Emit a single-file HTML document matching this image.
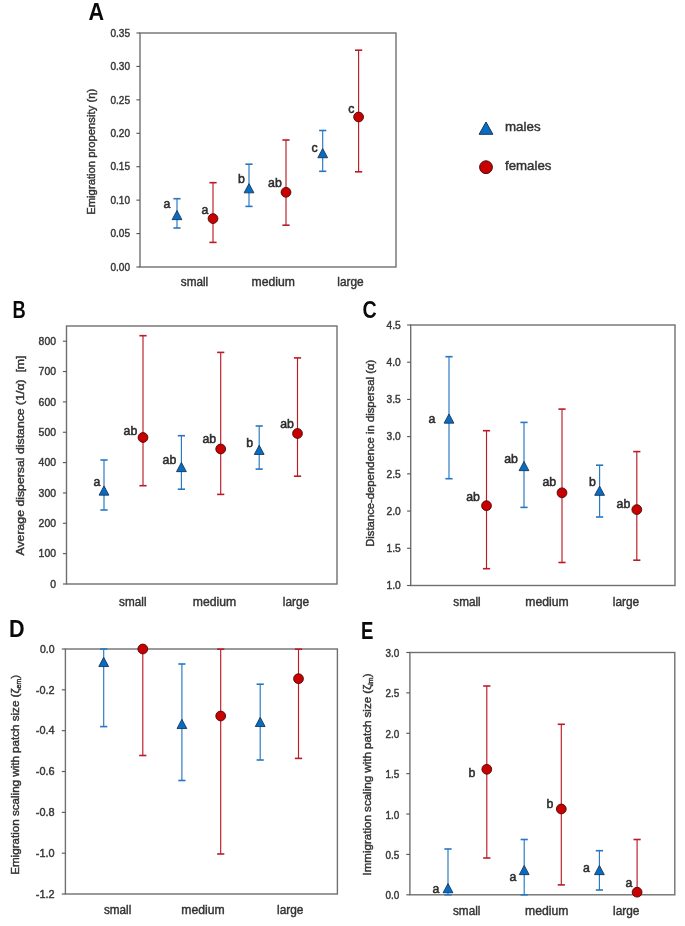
<!DOCTYPE html>
<html><head><meta charset="utf-8"><title>Figure</title>
<style>
html,body{margin:0;padding:0;background:#ffffff;}
body{width:685px;height:926px;overflow:hidden;}
svg{display:block;font-family:"Liberation Sans", sans-serif;filter:blur(0.35px);}
</style></head>
<body>
<svg width="685" height="926" viewBox="0 0 685 926">
<rect x="0" y="0" width="685" height="926" fill="#ffffff"/>
<rect x="140.00" y="33.00" width="256.00" height="234.00" fill="none" stroke="#707070" stroke-width="1.4"/>
<line x1="136.40" y1="267.00" x2="140.00" y2="267.00" stroke="#555555" stroke-width="1.1"/>
<text x="130.00" y="270.70" font-size="10.4" fill="#383838" stroke="#383838" stroke-width="0.42" text-anchor="end" font-weight="normal" textLength="19.60" lengthAdjust="spacingAndGlyphs">0.00</text>
<line x1="136.40" y1="233.57" x2="140.00" y2="233.57" stroke="#555555" stroke-width="1.1"/>
<text x="130.00" y="237.27" font-size="10.4" fill="#383838" stroke="#383838" stroke-width="0.42" text-anchor="end" font-weight="normal" textLength="19.60" lengthAdjust="spacingAndGlyphs">0.05</text>
<line x1="136.40" y1="200.14" x2="140.00" y2="200.14" stroke="#555555" stroke-width="1.1"/>
<text x="130.00" y="203.84" font-size="10.4" fill="#383838" stroke="#383838" stroke-width="0.42" text-anchor="end" font-weight="normal" textLength="19.60" lengthAdjust="spacingAndGlyphs">0.10</text>
<line x1="136.40" y1="166.71" x2="140.00" y2="166.71" stroke="#555555" stroke-width="1.1"/>
<text x="130.00" y="170.41" font-size="10.4" fill="#383838" stroke="#383838" stroke-width="0.42" text-anchor="end" font-weight="normal" textLength="19.60" lengthAdjust="spacingAndGlyphs">0.15</text>
<line x1="136.40" y1="133.29" x2="140.00" y2="133.29" stroke="#555555" stroke-width="1.1"/>
<text x="130.00" y="136.99" font-size="10.4" fill="#383838" stroke="#383838" stroke-width="0.42" text-anchor="end" font-weight="normal" textLength="19.60" lengthAdjust="spacingAndGlyphs">0.20</text>
<line x1="136.40" y1="99.86" x2="140.00" y2="99.86" stroke="#555555" stroke-width="1.1"/>
<text x="130.00" y="103.56" font-size="10.4" fill="#383838" stroke="#383838" stroke-width="0.42" text-anchor="end" font-weight="normal" textLength="19.60" lengthAdjust="spacingAndGlyphs">0.25</text>
<line x1="136.40" y1="66.43" x2="140.00" y2="66.43" stroke="#555555" stroke-width="1.1"/>
<text x="130.00" y="70.13" font-size="10.4" fill="#383838" stroke="#383838" stroke-width="0.42" text-anchor="end" font-weight="normal" textLength="19.60" lengthAdjust="spacingAndGlyphs">0.30</text>
<line x1="136.40" y1="33.00" x2="140.00" y2="33.00" stroke="#555555" stroke-width="1.1"/>
<text x="130.00" y="36.70" font-size="10.4" fill="#383838" stroke="#383838" stroke-width="0.42" text-anchor="end" font-weight="normal" textLength="19.60" lengthAdjust="spacingAndGlyphs">0.35</text>
<line x1="177.00" y1="198.70" x2="177.00" y2="228.00" stroke="#2677c3" stroke-width="1.15"/>
<line x1="173.40" y1="198.70" x2="180.60" y2="198.70" stroke="#2677c3" stroke-width="1.5999999999999999"/>
<line x1="173.40" y1="228.00" x2="180.60" y2="228.00" stroke="#2677c3" stroke-width="1.5999999999999999"/>
<line x1="249.00" y1="164.20" x2="249.00" y2="206.40" stroke="#2677c3" stroke-width="1.15"/>
<line x1="245.40" y1="164.20" x2="252.60" y2="164.20" stroke="#2677c3" stroke-width="1.5999999999999999"/>
<line x1="245.40" y1="206.40" x2="252.60" y2="206.40" stroke="#2677c3" stroke-width="1.5999999999999999"/>
<line x1="322.70" y1="130.50" x2="322.70" y2="171.30" stroke="#2677c3" stroke-width="1.15"/>
<line x1="319.10" y1="130.50" x2="326.30" y2="130.50" stroke="#2677c3" stroke-width="1.5999999999999999"/>
<line x1="319.10" y1="171.30" x2="326.30" y2="171.30" stroke="#2677c3" stroke-width="1.5999999999999999"/>
<line x1="213.00" y1="182.70" x2="213.00" y2="242.40" stroke="#ba1c26" stroke-width="1.15"/>
<line x1="209.40" y1="182.70" x2="216.60" y2="182.70" stroke="#ba1c26" stroke-width="1.5999999999999999"/>
<line x1="209.40" y1="242.40" x2="216.60" y2="242.40" stroke="#ba1c26" stroke-width="1.5999999999999999"/>
<line x1="286.00" y1="140.00" x2="286.00" y2="225.20" stroke="#ba1c26" stroke-width="1.15"/>
<line x1="282.40" y1="140.00" x2="289.60" y2="140.00" stroke="#ba1c26" stroke-width="1.5999999999999999"/>
<line x1="282.40" y1="225.20" x2="289.60" y2="225.20" stroke="#ba1c26" stroke-width="1.5999999999999999"/>
<line x1="358.60" y1="50.20" x2="358.60" y2="171.80" stroke="#ba1c26" stroke-width="1.15"/>
<line x1="355.00" y1="50.20" x2="362.20" y2="50.20" stroke="#ba1c26" stroke-width="1.5999999999999999"/>
<line x1="355.00" y1="171.80" x2="362.20" y2="171.80" stroke="#ba1c26" stroke-width="1.5999999999999999"/>
<polygon points="177.00,210.44 172.10,219.64 181.90,219.64" fill="#0a6cc0" stroke="#14385e" stroke-width="0.9" stroke-linejoin="miter"/>
<polygon points="249.00,183.64 244.10,192.84 253.90,192.84" fill="#0a6cc0" stroke="#14385e" stroke-width="0.9" stroke-linejoin="miter"/>
<polygon points="322.70,148.54 317.80,157.74 327.60,157.74" fill="#0a6cc0" stroke="#14385e" stroke-width="0.9" stroke-linejoin="miter"/>
<circle cx="213.00" cy="218.60" r="4.9" fill="#c80000" stroke="#4a0a0a" stroke-width="0.9"/>
<circle cx="286.00" cy="192.30" r="4.9" fill="#c80000" stroke="#4a0a0a" stroke-width="0.9"/>
<circle cx="358.60" cy="117.00" r="4.9" fill="#c80000" stroke="#4a0a0a" stroke-width="0.9"/>
<text x="163.60" y="208.00" font-size="12.3" fill="#2a2a2a" stroke="#2a2a2a" stroke-width="0.5">a</text>
<text x="201.60" y="214.00" font-size="12.3" fill="#2a2a2a" stroke="#2a2a2a" stroke-width="0.5">a</text>
<text x="238.10" y="182.50" font-size="12.3" fill="#2a2a2a" stroke="#2a2a2a" stroke-width="0.5">b</text>
<text x="268.10" y="186.50" font-size="12.3" fill="#2a2a2a" stroke="#2a2a2a" stroke-width="0.5">ab</text>
<text x="311.40" y="152.00" font-size="12.3" fill="#2a2a2a" stroke="#2a2a2a" stroke-width="0.5">c</text>
<text x="348.20" y="113.00" font-size="12.3" fill="#2a2a2a" stroke="#2a2a2a" stroke-width="0.5">c</text>
<text x="194.50" y="286.00" font-size="12.4" fill="#333333" stroke="#333333" stroke-width="0.42" text-anchor="middle" font-weight="normal" textLength="27.40" lengthAdjust="spacingAndGlyphs">small</text>
<text x="273.20" y="286.00" font-size="12.4" fill="#333333" stroke="#333333" stroke-width="0.42" text-anchor="middle" font-weight="normal" textLength="43.40" lengthAdjust="spacingAndGlyphs">medium</text>
<text x="350.50" y="286.00" font-size="12.4" fill="#333333" stroke="#333333" stroke-width="0.42" text-anchor="middle" font-weight="normal" textLength="26.40" lengthAdjust="spacingAndGlyphs">large</text>
<text transform="translate(95.40,151.80) rotate(-90)" x="0" y="0" font-size="11.6" fill="#333333" stroke="#333333" stroke-width="0.42" text-anchor="middle" textLength="126.00" lengthAdjust="spacingAndGlyphs">Emigration propensity (η)</text>
<text x="88.60" y="20.40" font-size="23.3" font-weight="bold" fill="#0a0a0a" textLength="15.60" lengthAdjust="spacingAndGlyphs">A</text>
<polygon points="486.00,122.0 479.10,134.3 492.90,134.3" fill="#0a6cc0" stroke="#14385e" stroke-width="1"/>
<circle cx="486" cy="167.2" r="6.4" fill="#c80000" stroke="#4a0a0a" stroke-width="1"/>
<text x="505.00" y="131.20" font-size="13.2" fill="#333333" stroke="#333333" stroke-width="0.42" text-anchor="start" font-weight="normal" textLength="35.60" lengthAdjust="spacingAndGlyphs">males</text>
<text x="505.00" y="169.70" font-size="13.2" fill="#333333" stroke="#333333" stroke-width="0.42" text-anchor="start" font-weight="normal" textLength="46.40" lengthAdjust="spacingAndGlyphs">females</text>
<rect x="66.50" y="326.00" width="270.50" height="258.00" fill="none" stroke="#707070" stroke-width="1.4"/>
<line x1="62.90" y1="584.00" x2="66.50" y2="584.00" stroke="#555555" stroke-width="1.1"/>
<text x="56.00" y="587.70" font-size="10.4" fill="#383838" stroke="#383838" stroke-width="0.42" text-anchor="end" font-weight="normal" textLength="5.80" lengthAdjust="spacingAndGlyphs">0</text>
<line x1="62.90" y1="553.65" x2="66.50" y2="553.65" stroke="#555555" stroke-width="1.1"/>
<text x="56.00" y="557.35" font-size="10.4" fill="#383838" stroke="#383838" stroke-width="0.42" text-anchor="end" font-weight="normal" textLength="17.40" lengthAdjust="spacingAndGlyphs">100</text>
<line x1="62.90" y1="523.30" x2="66.50" y2="523.30" stroke="#555555" stroke-width="1.1"/>
<text x="56.00" y="527.00" font-size="10.4" fill="#383838" stroke="#383838" stroke-width="0.42" text-anchor="end" font-weight="normal" textLength="17.40" lengthAdjust="spacingAndGlyphs">200</text>
<line x1="62.90" y1="492.95" x2="66.50" y2="492.95" stroke="#555555" stroke-width="1.1"/>
<text x="56.00" y="496.65" font-size="10.4" fill="#383838" stroke="#383838" stroke-width="0.42" text-anchor="end" font-weight="normal" textLength="17.40" lengthAdjust="spacingAndGlyphs">300</text>
<line x1="62.90" y1="462.60" x2="66.50" y2="462.60" stroke="#555555" stroke-width="1.1"/>
<text x="56.00" y="466.30" font-size="10.4" fill="#383838" stroke="#383838" stroke-width="0.42" text-anchor="end" font-weight="normal" textLength="17.40" lengthAdjust="spacingAndGlyphs">400</text>
<line x1="62.90" y1="432.25" x2="66.50" y2="432.25" stroke="#555555" stroke-width="1.1"/>
<text x="56.00" y="435.95" font-size="10.4" fill="#383838" stroke="#383838" stroke-width="0.42" text-anchor="end" font-weight="normal" textLength="17.40" lengthAdjust="spacingAndGlyphs">500</text>
<line x1="62.90" y1="401.90" x2="66.50" y2="401.90" stroke="#555555" stroke-width="1.1"/>
<text x="56.00" y="405.60" font-size="10.4" fill="#383838" stroke="#383838" stroke-width="0.42" text-anchor="end" font-weight="normal" textLength="17.40" lengthAdjust="spacingAndGlyphs">600</text>
<line x1="62.90" y1="371.55" x2="66.50" y2="371.55" stroke="#555555" stroke-width="1.1"/>
<text x="56.00" y="375.25" font-size="10.4" fill="#383838" stroke="#383838" stroke-width="0.42" text-anchor="end" font-weight="normal" textLength="17.40" lengthAdjust="spacingAndGlyphs">700</text>
<line x1="62.90" y1="341.20" x2="66.50" y2="341.20" stroke="#555555" stroke-width="1.1"/>
<text x="56.00" y="344.90" font-size="10.4" fill="#383838" stroke="#383838" stroke-width="0.42" text-anchor="end" font-weight="normal" textLength="17.40" lengthAdjust="spacingAndGlyphs">800</text>
<line x1="104.00" y1="460.00" x2="104.00" y2="510.00" stroke="#2677c3" stroke-width="1.15"/>
<line x1="100.40" y1="460.00" x2="107.60" y2="460.00" stroke="#2677c3" stroke-width="1.5999999999999999"/>
<line x1="100.40" y1="510.00" x2="107.60" y2="510.00" stroke="#2677c3" stroke-width="1.5999999999999999"/>
<line x1="181.40" y1="435.70" x2="181.40" y2="489.20" stroke="#2677c3" stroke-width="1.15"/>
<line x1="177.80" y1="435.70" x2="185.00" y2="435.70" stroke="#2677c3" stroke-width="1.5999999999999999"/>
<line x1="177.80" y1="489.20" x2="185.00" y2="489.20" stroke="#2677c3" stroke-width="1.5999999999999999"/>
<line x1="259.20" y1="426.00" x2="259.20" y2="469.10" stroke="#2677c3" stroke-width="1.15"/>
<line x1="255.60" y1="426.00" x2="262.80" y2="426.00" stroke="#2677c3" stroke-width="1.5999999999999999"/>
<line x1="255.60" y1="469.10" x2="262.80" y2="469.10" stroke="#2677c3" stroke-width="1.5999999999999999"/>
<line x1="143.00" y1="335.70" x2="143.00" y2="485.70" stroke="#ba1c26" stroke-width="1.15"/>
<line x1="139.40" y1="335.70" x2="146.60" y2="335.70" stroke="#ba1c26" stroke-width="1.5999999999999999"/>
<line x1="139.40" y1="485.70" x2="146.60" y2="485.70" stroke="#ba1c26" stroke-width="1.5999999999999999"/>
<line x1="220.70" y1="352.40" x2="220.70" y2="494.40" stroke="#ba1c26" stroke-width="1.15"/>
<line x1="217.10" y1="352.40" x2="224.30" y2="352.40" stroke="#ba1c26" stroke-width="1.5999999999999999"/>
<line x1="217.10" y1="494.40" x2="224.30" y2="494.40" stroke="#ba1c26" stroke-width="1.5999999999999999"/>
<line x1="297.50" y1="357.90" x2="297.50" y2="476.20" stroke="#ba1c26" stroke-width="1.15"/>
<line x1="293.90" y1="357.90" x2="301.10" y2="357.90" stroke="#ba1c26" stroke-width="1.5999999999999999"/>
<line x1="293.90" y1="476.20" x2="301.10" y2="476.20" stroke="#ba1c26" stroke-width="1.5999999999999999"/>
<polygon points="104.00,485.94 99.10,495.14 108.90,495.14" fill="#0a6cc0" stroke="#14385e" stroke-width="0.9" stroke-linejoin="miter"/>
<polygon points="181.40,462.44 176.50,471.64 186.30,471.64" fill="#0a6cc0" stroke="#14385e" stroke-width="0.9" stroke-linejoin="miter"/>
<polygon points="259.20,445.24 254.30,454.44 264.10,454.44" fill="#0a6cc0" stroke="#14385e" stroke-width="0.9" stroke-linejoin="miter"/>
<circle cx="143.00" cy="437.50" r="4.9" fill="#c80000" stroke="#4a0a0a" stroke-width="0.9"/>
<circle cx="220.70" cy="449.00" r="4.9" fill="#c80000" stroke="#4a0a0a" stroke-width="0.9"/>
<circle cx="297.50" cy="433.50" r="4.9" fill="#c80000" stroke="#4a0a0a" stroke-width="0.9"/>
<text x="93.60" y="486.00" font-size="12.3" fill="#2a2a2a" stroke="#2a2a2a" stroke-width="0.5">a</text>
<text x="123.60" y="435.00" font-size="12.3" fill="#2a2a2a" stroke="#2a2a2a" stroke-width="0.5">ab</text>
<text x="162.60" y="464.00" font-size="12.3" fill="#2a2a2a" stroke="#2a2a2a" stroke-width="0.5">ab</text>
<text x="202.40" y="442.50" font-size="12.3" fill="#2a2a2a" stroke="#2a2a2a" stroke-width="0.5">ab</text>
<text x="246.20" y="447.00" font-size="12.3" fill="#2a2a2a" stroke="#2a2a2a" stroke-width="0.5">b</text>
<text x="280.20" y="428.00" font-size="12.3" fill="#2a2a2a" stroke="#2a2a2a" stroke-width="0.5">ab</text>
<text x="132.80" y="605.60" font-size="12.4" fill="#333333" stroke="#333333" stroke-width="0.42" text-anchor="middle" font-weight="normal" textLength="27.40" lengthAdjust="spacingAndGlyphs">small</text>
<text x="214.50" y="605.60" font-size="12.4" fill="#333333" stroke="#333333" stroke-width="0.42" text-anchor="middle" font-weight="normal" textLength="43.40" lengthAdjust="spacingAndGlyphs">medium</text>
<text x="296.00" y="605.60" font-size="12.4" fill="#333333" stroke="#333333" stroke-width="0.42" text-anchor="middle" font-weight="normal" textLength="26.40" lengthAdjust="spacingAndGlyphs">large</text>
<text transform="translate(23.80,455.50) rotate(-90)" x="0" y="0" font-size="11.6" fill="#333333" stroke="#333333" stroke-width="0.42" text-anchor="middle" textLength="200.00" lengthAdjust="spacingAndGlyphs">Average dispersal distance (1/α)&#160; [m]</text>
<text x="12.40" y="318.30" font-size="23.3" font-weight="bold" fill="#0a0a0a" textLength="13.20" lengthAdjust="spacingAndGlyphs">B</text>
<rect x="410.70" y="325.00" width="264.30" height="260.50" fill="none" stroke="#707070" stroke-width="1.4"/>
<line x1="407.10" y1="585.50" x2="410.70" y2="585.50" stroke="#555555" stroke-width="1.1"/>
<text x="400.80" y="589.20" font-size="10.4" fill="#383838" stroke="#383838" stroke-width="0.42" text-anchor="end" font-weight="normal" textLength="14.20" lengthAdjust="spacingAndGlyphs">1.0</text>
<line x1="407.10" y1="548.29" x2="410.70" y2="548.29" stroke="#555555" stroke-width="1.1"/>
<text x="400.80" y="551.99" font-size="10.4" fill="#383838" stroke="#383838" stroke-width="0.42" text-anchor="end" font-weight="normal" textLength="14.20" lengthAdjust="spacingAndGlyphs">1.5</text>
<line x1="407.10" y1="511.07" x2="410.70" y2="511.07" stroke="#555555" stroke-width="1.1"/>
<text x="400.80" y="514.77" font-size="10.4" fill="#383838" stroke="#383838" stroke-width="0.42" text-anchor="end" font-weight="normal" textLength="14.20" lengthAdjust="spacingAndGlyphs">2.0</text>
<line x1="407.10" y1="473.86" x2="410.70" y2="473.86" stroke="#555555" stroke-width="1.1"/>
<text x="400.80" y="477.56" font-size="10.4" fill="#383838" stroke="#383838" stroke-width="0.42" text-anchor="end" font-weight="normal" textLength="14.20" lengthAdjust="spacingAndGlyphs">2.5</text>
<line x1="407.10" y1="436.64" x2="410.70" y2="436.64" stroke="#555555" stroke-width="1.1"/>
<text x="400.80" y="440.34" font-size="10.4" fill="#383838" stroke="#383838" stroke-width="0.42" text-anchor="end" font-weight="normal" textLength="14.20" lengthAdjust="spacingAndGlyphs">3.0</text>
<line x1="407.10" y1="399.43" x2="410.70" y2="399.43" stroke="#555555" stroke-width="1.1"/>
<text x="400.80" y="403.13" font-size="10.4" fill="#383838" stroke="#383838" stroke-width="0.42" text-anchor="end" font-weight="normal" textLength="14.20" lengthAdjust="spacingAndGlyphs">3.5</text>
<line x1="407.10" y1="362.21" x2="410.70" y2="362.21" stroke="#555555" stroke-width="1.1"/>
<text x="400.80" y="365.91" font-size="10.4" fill="#383838" stroke="#383838" stroke-width="0.42" text-anchor="end" font-weight="normal" textLength="14.20" lengthAdjust="spacingAndGlyphs">4.0</text>
<line x1="407.10" y1="325.00" x2="410.70" y2="325.00" stroke="#555555" stroke-width="1.1"/>
<text x="400.80" y="328.70" font-size="10.4" fill="#383838" stroke="#383838" stroke-width="0.42" text-anchor="end" font-weight="normal" textLength="14.20" lengthAdjust="spacingAndGlyphs">4.5</text>
<line x1="449.00" y1="356.70" x2="449.00" y2="478.70" stroke="#2677c3" stroke-width="1.15"/>
<line x1="445.40" y1="356.70" x2="452.60" y2="356.70" stroke="#2677c3" stroke-width="1.5999999999999999"/>
<line x1="445.40" y1="478.70" x2="452.60" y2="478.70" stroke="#2677c3" stroke-width="1.5999999999999999"/>
<line x1="524.00" y1="422.40" x2="524.00" y2="507.40" stroke="#2677c3" stroke-width="1.15"/>
<line x1="520.40" y1="422.40" x2="527.60" y2="422.40" stroke="#2677c3" stroke-width="1.5999999999999999"/>
<line x1="520.40" y1="507.40" x2="527.60" y2="507.40" stroke="#2677c3" stroke-width="1.5999999999999999"/>
<line x1="599.60" y1="465.20" x2="599.60" y2="517.00" stroke="#2677c3" stroke-width="1.15"/>
<line x1="596.00" y1="465.20" x2="603.20" y2="465.20" stroke="#2677c3" stroke-width="1.5999999999999999"/>
<line x1="596.00" y1="517.00" x2="603.20" y2="517.00" stroke="#2677c3" stroke-width="1.5999999999999999"/>
<line x1="486.50" y1="430.70" x2="486.50" y2="568.70" stroke="#ba1c26" stroke-width="1.15"/>
<line x1="482.90" y1="430.70" x2="490.10" y2="430.70" stroke="#ba1c26" stroke-width="1.5999999999999999"/>
<line x1="482.90" y1="568.70" x2="490.10" y2="568.70" stroke="#ba1c26" stroke-width="1.5999999999999999"/>
<line x1="562.00" y1="409.10" x2="562.00" y2="562.50" stroke="#ba1c26" stroke-width="1.15"/>
<line x1="558.40" y1="409.10" x2="565.60" y2="409.10" stroke="#ba1c26" stroke-width="1.5999999999999999"/>
<line x1="558.40" y1="562.50" x2="565.60" y2="562.50" stroke="#ba1c26" stroke-width="1.5999999999999999"/>
<line x1="636.80" y1="451.60" x2="636.80" y2="560.20" stroke="#ba1c26" stroke-width="1.15"/>
<line x1="633.20" y1="451.60" x2="640.40" y2="451.60" stroke="#ba1c26" stroke-width="1.5999999999999999"/>
<line x1="633.20" y1="560.20" x2="640.40" y2="560.20" stroke="#ba1c26" stroke-width="1.5999999999999999"/>
<polygon points="449.00,413.94 444.10,423.14 453.90,423.14" fill="#0a6cc0" stroke="#14385e" stroke-width="0.9" stroke-linejoin="miter"/>
<polygon points="524.00,461.44 519.10,470.64 528.90,470.64" fill="#0a6cc0" stroke="#14385e" stroke-width="0.9" stroke-linejoin="miter"/>
<polygon points="599.60,486.14 594.70,495.34 604.50,495.34" fill="#0a6cc0" stroke="#14385e" stroke-width="0.9" stroke-linejoin="miter"/>
<circle cx="486.50" cy="505.70" r="4.9" fill="#c80000" stroke="#4a0a0a" stroke-width="0.9"/>
<circle cx="562.00" cy="492.80" r="4.9" fill="#c80000" stroke="#4a0a0a" stroke-width="0.9"/>
<circle cx="636.80" cy="509.60" r="4.9" fill="#c80000" stroke="#4a0a0a" stroke-width="0.9"/>
<text x="428.60" y="423.00" font-size="12.3" fill="#2a2a2a" stroke="#2a2a2a" stroke-width="0.5">a</text>
<text x="466.20" y="500.50" font-size="12.3" fill="#2a2a2a" stroke="#2a2a2a" stroke-width="0.5">ab</text>
<text x="504.20" y="462.60" font-size="12.3" fill="#2a2a2a" stroke="#2a2a2a" stroke-width="0.5">ab</text>
<text x="542.40" y="486.00" font-size="12.3" fill="#2a2a2a" stroke="#2a2a2a" stroke-width="0.5">ab</text>
<text x="589.10" y="486.00" font-size="12.3" fill="#2a2a2a" stroke="#2a2a2a" stroke-width="0.5">b</text>
<text x="616.60" y="508.00" font-size="12.3" fill="#2a2a2a" stroke="#2a2a2a" stroke-width="0.5">ab</text>
<text x="467.00" y="605.80" font-size="12.4" fill="#333333" stroke="#333333" stroke-width="0.42" text-anchor="middle" font-weight="normal" textLength="27.40" lengthAdjust="spacingAndGlyphs">small</text>
<text x="547.00" y="605.80" font-size="12.4" fill="#333333" stroke="#333333" stroke-width="0.42" text-anchor="middle" font-weight="normal" textLength="43.40" lengthAdjust="spacingAndGlyphs">medium</text>
<text x="626.00" y="605.80" font-size="12.4" fill="#333333" stroke="#333333" stroke-width="0.42" text-anchor="middle" font-weight="normal" textLength="26.40" lengthAdjust="spacingAndGlyphs">large</text>
<text transform="translate(373.80,453.30) rotate(-90)" x="0" y="0" font-size="11.6" fill="#333333" stroke="#333333" stroke-width="0.42" text-anchor="middle" textLength="187.00" lengthAdjust="spacingAndGlyphs">Distance-dependence in dispersal (α)</text>
<text x="362.60" y="317.90" font-size="23.3" font-weight="bold" fill="#0a0a0a" textLength="14.20" lengthAdjust="spacingAndGlyphs">C</text>
<rect x="65.40" y="649.00" width="272.00" height="245.00" fill="none" stroke="#707070" stroke-width="1.4"/>
<line x1="61.80" y1="649.00" x2="65.40" y2="649.00" stroke="#555555" stroke-width="1.1"/>
<text x="54.60" y="652.70" font-size="10.4" fill="#383838" stroke="#383838" stroke-width="0.42" text-anchor="end" font-weight="normal" textLength="14.60" lengthAdjust="spacingAndGlyphs">0.0</text>
<line x1="61.80" y1="689.83" x2="65.40" y2="689.83" stroke="#555555" stroke-width="1.1"/>
<text x="54.60" y="693.53" font-size="10.4" fill="#383838" stroke="#383838" stroke-width="0.42" text-anchor="end" font-weight="normal" textLength="18.80" lengthAdjust="spacingAndGlyphs">-0.2</text>
<line x1="61.80" y1="730.67" x2="65.40" y2="730.67" stroke="#555555" stroke-width="1.1"/>
<text x="54.60" y="734.37" font-size="10.4" fill="#383838" stroke="#383838" stroke-width="0.42" text-anchor="end" font-weight="normal" textLength="18.80" lengthAdjust="spacingAndGlyphs">-0.4</text>
<line x1="61.80" y1="771.50" x2="65.40" y2="771.50" stroke="#555555" stroke-width="1.1"/>
<text x="54.60" y="775.20" font-size="10.4" fill="#383838" stroke="#383838" stroke-width="0.42" text-anchor="end" font-weight="normal" textLength="18.80" lengthAdjust="spacingAndGlyphs">-0.6</text>
<line x1="61.80" y1="812.33" x2="65.40" y2="812.33" stroke="#555555" stroke-width="1.1"/>
<text x="54.60" y="816.03" font-size="10.4" fill="#383838" stroke="#383838" stroke-width="0.42" text-anchor="end" font-weight="normal" textLength="18.80" lengthAdjust="spacingAndGlyphs">-0.8</text>
<line x1="61.80" y1="853.17" x2="65.40" y2="853.17" stroke="#555555" stroke-width="1.1"/>
<text x="54.60" y="856.87" font-size="10.4" fill="#383838" stroke="#383838" stroke-width="0.42" text-anchor="end" font-weight="normal" textLength="18.80" lengthAdjust="spacingAndGlyphs">-1.0</text>
<line x1="61.80" y1="894.00" x2="65.40" y2="894.00" stroke="#555555" stroke-width="1.1"/>
<text x="54.60" y="897.70" font-size="10.4" fill="#383838" stroke="#383838" stroke-width="0.42" text-anchor="end" font-weight="normal" textLength="18.80" lengthAdjust="spacingAndGlyphs">-1.2</text>
<line x1="103.70" y1="649.00" x2="103.70" y2="726.60" stroke="#2677c3" stroke-width="1.15"/>
<line x1="100.10" y1="649.00" x2="107.30" y2="649.00" stroke="#2677c3" stroke-width="1.5999999999999999"/>
<line x1="100.10" y1="726.60" x2="107.30" y2="726.60" stroke="#2677c3" stroke-width="1.5999999999999999"/>
<line x1="181.90" y1="664.00" x2="181.90" y2="780.50" stroke="#2677c3" stroke-width="1.15"/>
<line x1="178.30" y1="664.00" x2="185.50" y2="664.00" stroke="#2677c3" stroke-width="1.5999999999999999"/>
<line x1="178.30" y1="780.50" x2="185.50" y2="780.50" stroke="#2677c3" stroke-width="1.5999999999999999"/>
<line x1="260.20" y1="684.20" x2="260.20" y2="760.00" stroke="#2677c3" stroke-width="1.15"/>
<line x1="256.60" y1="684.20" x2="263.80" y2="684.20" stroke="#2677c3" stroke-width="1.5999999999999999"/>
<line x1="256.60" y1="760.00" x2="263.80" y2="760.00" stroke="#2677c3" stroke-width="1.5999999999999999"/>
<line x1="142.80" y1="649.00" x2="142.80" y2="755.50" stroke="#ba1c26" stroke-width="1.15"/>
<line x1="139.20" y1="649.00" x2="146.40" y2="649.00" stroke="#ba1c26" stroke-width="1.5999999999999999"/>
<line x1="139.20" y1="755.50" x2="146.40" y2="755.50" stroke="#ba1c26" stroke-width="1.5999999999999999"/>
<line x1="220.70" y1="649.20" x2="220.70" y2="854.00" stroke="#ba1c26" stroke-width="1.15"/>
<line x1="217.10" y1="649.20" x2="224.30" y2="649.20" stroke="#ba1c26" stroke-width="1.5999999999999999"/>
<line x1="217.10" y1="854.00" x2="224.30" y2="854.00" stroke="#ba1c26" stroke-width="1.5999999999999999"/>
<line x1="298.50" y1="649.20" x2="298.50" y2="758.40" stroke="#ba1c26" stroke-width="1.15"/>
<line x1="294.90" y1="649.20" x2="302.10" y2="649.20" stroke="#ba1c26" stroke-width="1.5999999999999999"/>
<line x1="294.90" y1="758.40" x2="302.10" y2="758.40" stroke="#ba1c26" stroke-width="1.5999999999999999"/>
<polygon points="103.70,657.34 98.80,666.54 108.60,666.54" fill="#0a6cc0" stroke="#14385e" stroke-width="0.9" stroke-linejoin="miter"/>
<polygon points="181.90,719.34 177.00,728.54 186.80,728.54" fill="#0a6cc0" stroke="#14385e" stroke-width="0.9" stroke-linejoin="miter"/>
<polygon points="260.20,717.34 255.30,726.54 265.10,726.54" fill="#0a6cc0" stroke="#14385e" stroke-width="0.9" stroke-linejoin="miter"/>
<circle cx="142.80" cy="649.00" r="4.9" fill="#c80000" stroke="#4a0a0a" stroke-width="0.9"/>
<circle cx="220.70" cy="716.00" r="4.9" fill="#c80000" stroke="#4a0a0a" stroke-width="0.9"/>
<circle cx="298.50" cy="678.70" r="4.9" fill="#c80000" stroke="#4a0a0a" stroke-width="0.9"/>
<text x="117.60" y="913.80" font-size="12.4" fill="#333333" stroke="#333333" stroke-width="0.42" text-anchor="middle" font-weight="normal" textLength="27.40" lengthAdjust="spacingAndGlyphs">small</text>
<text x="203.00" y="913.80" font-size="12.4" fill="#333333" stroke="#333333" stroke-width="0.42" text-anchor="middle" font-weight="normal" textLength="43.40" lengthAdjust="spacingAndGlyphs">medium</text>
<text x="290.20" y="913.80" font-size="12.4" fill="#333333" stroke="#333333" stroke-width="0.42" text-anchor="middle" font-weight="normal" textLength="26.40" lengthAdjust="spacingAndGlyphs">large</text>
<text transform="translate(19.40,774.80) rotate(-90)" x="0" y="0" font-size="11.6" fill="#333333" stroke="#333333" stroke-width="0.42" text-anchor="middle" textLength="200.00" lengthAdjust="spacingAndGlyphs">Emigration scaling with patch size (ζ<tspan font-size="7" dy="2">em</tspan><tspan dy="-2">)</tspan></text>
<text x="8.90" y="636.50" font-size="23.3" font-weight="bold" fill="#0a0a0a" textLength="15.60" lengthAdjust="spacingAndGlyphs">D</text>
<rect x="409.90" y="652.50" width="264.90" height="242.30" fill="none" stroke="#707070" stroke-width="1.4"/>
<line x1="406.30" y1="894.80" x2="409.90" y2="894.80" stroke="#555555" stroke-width="1.1"/>
<text x="399.40" y="899.30" font-size="10.4" fill="#383838" stroke="#383838" stroke-width="0.42" text-anchor="end" font-weight="normal" textLength="13.80" lengthAdjust="spacingAndGlyphs">0.0</text>
<line x1="406.30" y1="854.42" x2="409.90" y2="854.42" stroke="#555555" stroke-width="1.1"/>
<text x="399.40" y="858.92" font-size="10.4" fill="#383838" stroke="#383838" stroke-width="0.42" text-anchor="end" font-weight="normal" textLength="13.80" lengthAdjust="spacingAndGlyphs">0.5</text>
<line x1="406.30" y1="814.03" x2="409.90" y2="814.03" stroke="#555555" stroke-width="1.1"/>
<text x="399.40" y="818.53" font-size="10.4" fill="#383838" stroke="#383838" stroke-width="0.42" text-anchor="end" font-weight="normal" textLength="13.80" lengthAdjust="spacingAndGlyphs">1.0</text>
<line x1="406.30" y1="773.65" x2="409.90" y2="773.65" stroke="#555555" stroke-width="1.1"/>
<text x="399.40" y="778.15" font-size="10.4" fill="#383838" stroke="#383838" stroke-width="0.42" text-anchor="end" font-weight="normal" textLength="13.80" lengthAdjust="spacingAndGlyphs">1.5</text>
<line x1="406.30" y1="733.27" x2="409.90" y2="733.27" stroke="#555555" stroke-width="1.1"/>
<text x="399.40" y="737.77" font-size="10.4" fill="#383838" stroke="#383838" stroke-width="0.42" text-anchor="end" font-weight="normal" textLength="13.80" lengthAdjust="spacingAndGlyphs">2.0</text>
<line x1="406.30" y1="692.88" x2="409.90" y2="692.88" stroke="#555555" stroke-width="1.1"/>
<text x="399.40" y="697.38" font-size="10.4" fill="#383838" stroke="#383838" stroke-width="0.42" text-anchor="end" font-weight="normal" textLength="13.80" lengthAdjust="spacingAndGlyphs">2.5</text>
<line x1="406.30" y1="652.50" x2="409.90" y2="652.50" stroke="#555555" stroke-width="1.1"/>
<text x="399.40" y="657.00" font-size="10.4" fill="#383838" stroke="#383838" stroke-width="0.42" text-anchor="end" font-weight="normal" textLength="13.80" lengthAdjust="spacingAndGlyphs">3.0</text>
<line x1="448.00" y1="849.00" x2="448.00" y2="894.80" stroke="#2677c3" stroke-width="1.15"/>
<line x1="444.40" y1="849.00" x2="451.60" y2="849.00" stroke="#2677c3" stroke-width="1.5999999999999999"/>
<line x1="444.40" y1="894.80" x2="451.60" y2="894.80" stroke="#2677c3" stroke-width="1.5999999999999999"/>
<line x1="524.20" y1="839.50" x2="524.20" y2="894.80" stroke="#2677c3" stroke-width="1.15"/>
<line x1="520.60" y1="839.50" x2="527.80" y2="839.50" stroke="#2677c3" stroke-width="1.5999999999999999"/>
<line x1="520.60" y1="894.80" x2="527.80" y2="894.80" stroke="#2677c3" stroke-width="1.5999999999999999"/>
<line x1="599.40" y1="850.70" x2="599.40" y2="890.00" stroke="#2677c3" stroke-width="1.15"/>
<line x1="595.80" y1="850.70" x2="603.00" y2="850.70" stroke="#2677c3" stroke-width="1.5999999999999999"/>
<line x1="595.80" y1="890.00" x2="603.00" y2="890.00" stroke="#2677c3" stroke-width="1.5999999999999999"/>
<line x1="486.80" y1="686.00" x2="486.80" y2="858.00" stroke="#ba1c26" stroke-width="1.15"/>
<line x1="483.20" y1="686.00" x2="490.40" y2="686.00" stroke="#ba1c26" stroke-width="1.5999999999999999"/>
<line x1="483.20" y1="858.00" x2="490.40" y2="858.00" stroke="#ba1c26" stroke-width="1.5999999999999999"/>
<line x1="561.30" y1="724.30" x2="561.30" y2="884.90" stroke="#ba1c26" stroke-width="1.15"/>
<line x1="557.70" y1="724.30" x2="564.90" y2="724.30" stroke="#ba1c26" stroke-width="1.5999999999999999"/>
<line x1="557.70" y1="884.90" x2="564.90" y2="884.90" stroke="#ba1c26" stroke-width="1.5999999999999999"/>
<line x1="637.10" y1="839.50" x2="637.10" y2="894.80" stroke="#ba1c26" stroke-width="1.15"/>
<line x1="633.50" y1="839.50" x2="640.70" y2="839.50" stroke="#ba1c26" stroke-width="1.5999999999999999"/>
<line x1="633.50" y1="894.80" x2="640.70" y2="894.80" stroke="#ba1c26" stroke-width="1.5999999999999999"/>
<polygon points="448.00,883.54 443.10,892.74 452.90,892.74" fill="#0a6cc0" stroke="#14385e" stroke-width="0.9" stroke-linejoin="miter"/>
<polygon points="524.20,865.44 519.30,874.64 529.10,874.64" fill="#0a6cc0" stroke="#14385e" stroke-width="0.9" stroke-linejoin="miter"/>
<polygon points="599.40,865.44 594.50,874.64 604.30,874.64" fill="#0a6cc0" stroke="#14385e" stroke-width="0.9" stroke-linejoin="miter"/>
<circle cx="486.80" cy="769.30" r="4.9" fill="#c80000" stroke="#4a0a0a" stroke-width="0.9"/>
<circle cx="561.30" cy="809.00" r="4.9" fill="#c80000" stroke="#4a0a0a" stroke-width="0.9"/>
<circle cx="637.10" cy="892.20" r="4.9" fill="#c80000" stroke="#4a0a0a" stroke-width="0.9"/>
<text x="432.60" y="892.80" font-size="12.3" fill="#2a2a2a" stroke="#2a2a2a" stroke-width="0.5">a</text>
<text x="468.60" y="777.20" font-size="12.3" fill="#2a2a2a" stroke="#2a2a2a" stroke-width="0.5">b</text>
<text x="509.40" y="881.00" font-size="12.3" fill="#2a2a2a" stroke="#2a2a2a" stroke-width="0.5">a</text>
<text x="546.60" y="808.00" font-size="12.3" fill="#2a2a2a" stroke="#2a2a2a" stroke-width="0.5">b</text>
<text x="583.00" y="872.00" font-size="12.3" fill="#2a2a2a" stroke="#2a2a2a" stroke-width="0.5">a</text>
<text x="625.60" y="886.80" font-size="12.3" fill="#2a2a2a" stroke="#2a2a2a" stroke-width="0.5">a</text>
<text x="466.70" y="915.00" font-size="12.4" fill="#333333" stroke="#333333" stroke-width="0.42" text-anchor="middle" font-weight="normal" textLength="27.40" lengthAdjust="spacingAndGlyphs">small</text>
<text x="546.70" y="915.00" font-size="12.4" fill="#333333" stroke="#333333" stroke-width="0.42" text-anchor="middle" font-weight="normal" textLength="43.40" lengthAdjust="spacingAndGlyphs">medium</text>
<text x="626.20" y="915.00" font-size="12.4" fill="#333333" stroke="#333333" stroke-width="0.42" text-anchor="middle" font-weight="normal" textLength="26.40" lengthAdjust="spacingAndGlyphs">large</text>
<text transform="translate(371.20,774.50) rotate(-90)" x="0" y="0" font-size="11.6" fill="#333333" stroke="#333333" stroke-width="0.42" text-anchor="middle" textLength="202.00" lengthAdjust="spacingAndGlyphs">Immigration scaling with patch size (ζ<tspan font-size="7" dy="2">im</tspan><tspan dy="-2">)</tspan></text>
<text x="361.00" y="638.50" font-size="23.3" font-weight="bold" fill="#0a0a0a" textLength="12.40" lengthAdjust="spacingAndGlyphs">E</text>
</svg>
</body></html>
